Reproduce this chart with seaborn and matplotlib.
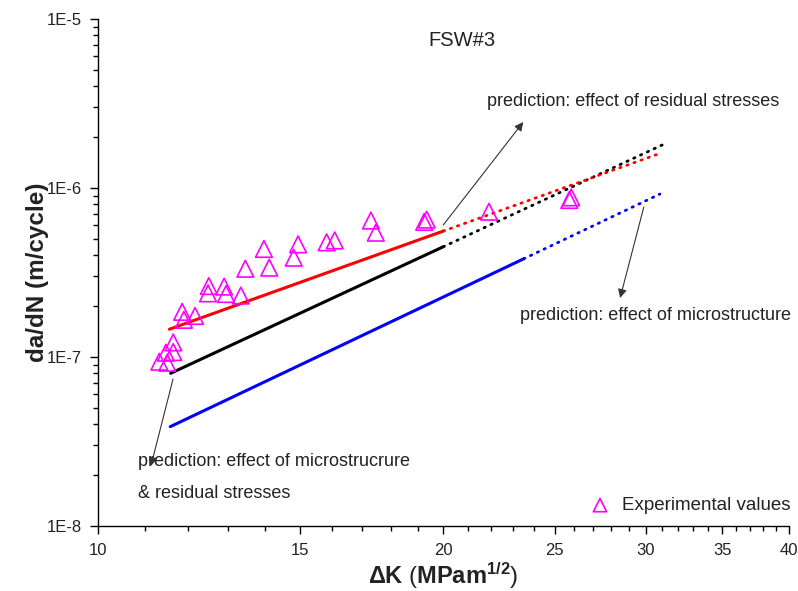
import matplotlib
matplotlib.use("Agg")
import matplotlib.pyplot as plt
import seaborn as sns
from matplotlib.ticker import FixedLocator, NullFormatter

# Experimental crack growth rates
dk_exp = [11.32, 11.47, 11.50, 11.64, 11.64, 11.85, 11.89, 12.16, 12.48, 12.50,
          12.89, 12.94, 13.33, 13.45, 13.96, 14.11, 14.82, 14.95, 15.83, 16.09,
          17.30, 17.47, 19.25, 19.35, 21.92, 25.75, 25.85]
dadn_exp = [9.38e-8, 1.06e-7, 9.25e-8, 1.22e-7, 1.07e-7, 1.85e-7, 1.66e-7, 1.75e-7, 2.38e-7, 2.63e-7,
            2.61e-7, 2.36e-7, 2.31e-7, 3.33e-7, 4.36e-7, 3.38e-7, 3.87e-7, 4.64e-7, 4.77e-7, 4.90e-7,
            6.42e-7, 5.44e-7, 6.30e-7, 6.50e-7, 7.24e-7, 8.50e-7, 8.80e-7]

# Predicted curves: start, end of the dense part, end of the curve
dk_rs = [11.55, 20.0, 30.90]
dadn_rs = [1.46e-7, 5.56e-7, 1.605e-6]
dk_msrs = [11.58, 20.0, 31.02]
dadn_msrs = [8.01e-8, 4.49e-7, 1.797e-6]
dk_ms = [11.57, 23.5, 30.88]
dadn_ms = [3.87e-8, 3.81e-7, 9.21e-7]

x_ticks = [10, 15, 20, 25, 30, 35, 40]
x_ticklabels = ["10", "15", "20", "25", "30", "35", "40"]
y_ticks = [1e-8, 1e-7, 1e-6, 1e-5]
y_ticklabels = ["1E-8", "1E-7", "1E-6", "1E-5"]

sns.set_theme(style="ticks")
plt.rcParams["font.family"] = ["Liberation Sans", "DejaVu Sans"]
plt.rcParams["mathtext.fontset"] = "custom"
plt.rcParams["mathtext.rm"] = "Liberation Sans"
plt.rcParams["mathtext.bf"] = "Liberation Sans:bold"
plt.rcParams["mathtext.it"] = "Liberation Sans:italic"

fig = plt.figure(figsize=(7.98, 5.91), dpi=100)
L, R, B, T = 97.5, 789.0, 526.0, 19.0
W, H = 798.0, 591.0
ax = fig.add_axes([L / W, 1 - B / H, (R - L) / W, (B - T) / H])
ax.set_xscale("log")
ax.set_yscale("log")

dots = (0, (0.5, 2.2))
for dk, dadn, col in [(dk_msrs, dadn_msrs, "black"), (dk_rs, dadn_rs, "#ff0000"), (dk_ms, dadn_ms, "#0000ff")]:
    sns.lineplot(x=dk[:2], y=dadn[:2], color=col, linewidth=2.2, sort=False, ax=ax)
    sns.lineplot(x=dk[1:], y=dadn[1:], color=col, linewidth=2.0, linestyle=dots,
                 dash_capstyle="round", sort=False, ax=ax)

sns.scatterplot(x=dk_exp, y=dadn_exp, marker="^", s=12.0 ** 2, color="#ff00ff",
                facecolor="none", edgecolor="#ff00ff", linewidth=1.2,
                label="Experimental values", ax=ax, zorder=3)

ax.set_xlim(10, 40)
ax.set_ylim(1e-8, 1e-5)
ax.xaxis.set_major_locator(FixedLocator(x_ticks))
ax.set_xticklabels(x_ticklabels)
ax.xaxis.set_minor_locator(FixedLocator([v for v in range(11, 40) if v not in x_ticks]))
ax.xaxis.set_minor_formatter(NullFormatter())
ax.yaxis.set_major_locator(FixedLocator(y_ticks))
ax.set_yticklabels(y_ticklabels)
ax.yaxis.set_minor_locator(FixedLocator([m * 10.0 ** e for e in (-8, -7, -6) for m in range(2, 10)]))
ax.yaxis.set_minor_formatter(NullFormatter())

for side in ("top", "right"):
    ax.spines[side].set_visible(False)
for side in ("left", "bottom"):
    ax.spines[side].set_linewidth(1.0)
    ax.spines[side].set_color("black")
ax.tick_params(which="major", direction="out", length=6, width=1.0, labelsize=12,
               color="black", labelcolor="#222222")
ax.tick_params(which="minor", direction="out", length=3.5, width=1.0, color="black")
ax.tick_params(axis="y", which="major", pad=5)
ax.tick_params(axis="x", which="major", pad=6)

ax.set_ylabel("da/dN (m/cycle)", fontsize=17.5, fontweight="bold", color="#222222")
ax.yaxis.set_label_coords((49 - L) / (R - L), (B - 272) / (B - T))
ax.set_xlabel(r"$\mathbf{\Delta K}$ ($\mathbf{MPam^{1/2}}$)", fontsize=17, color="#222222")
ax.xaxis.set_label_coords(0.5, (B - 560) / (B - T))


def axfrac(px, py):
    return ((px - L) / (R - L), (B - py) / (B - T))


txt = dict(fontsize=13, color="#222222", transform=ax.transAxes, va="center", ha="left")
ax.text(*axfrac(428, 41), "FSW#3", fontsize=14.5, color="#222222", transform=ax.transAxes,
        va="center", ha="left")
ax.text(*axfrac(487, 101), "prediction: effect of residual stresses", **txt)
ax.text(*axfrac(520, 316), "prediction: effect of microstructure", **txt)
ax.text(*axfrac(138, 462), "prediction: effect of microstrucrure", **txt)
ax.text(*axfrac(138, 494), "& residual stresses", **txt)

arrow = dict(arrowstyle="-|>", color="#333333", lw=0.8, mutation_scale=13, shrinkA=0, shrinkB=0)
ax.annotate("", xy=(23.48, 2.457e-6), xytext=(20.0, 6.04e-7), arrowprops=arrow)
ax.annotate("", xy=(28.51, 2.234e-7), xytext=(29.9, 7.72e-7), arrowprops=arrow)
ax.annotate("", xy=(11.13, 2.265e-8), xytext=(11.635, 7.41e-8), arrowprops=arrow)

ax.legend(loc="lower right", bbox_to_anchor=axfrac(791, 514), frameon=False, fontsize=13.5,
          borderaxespad=0, borderpad=0, handletextpad=0.2, markerscale=0.8,
          labelcolor="#222222")

fig.savefig("out.png", dpi=100, facecolor="white")
